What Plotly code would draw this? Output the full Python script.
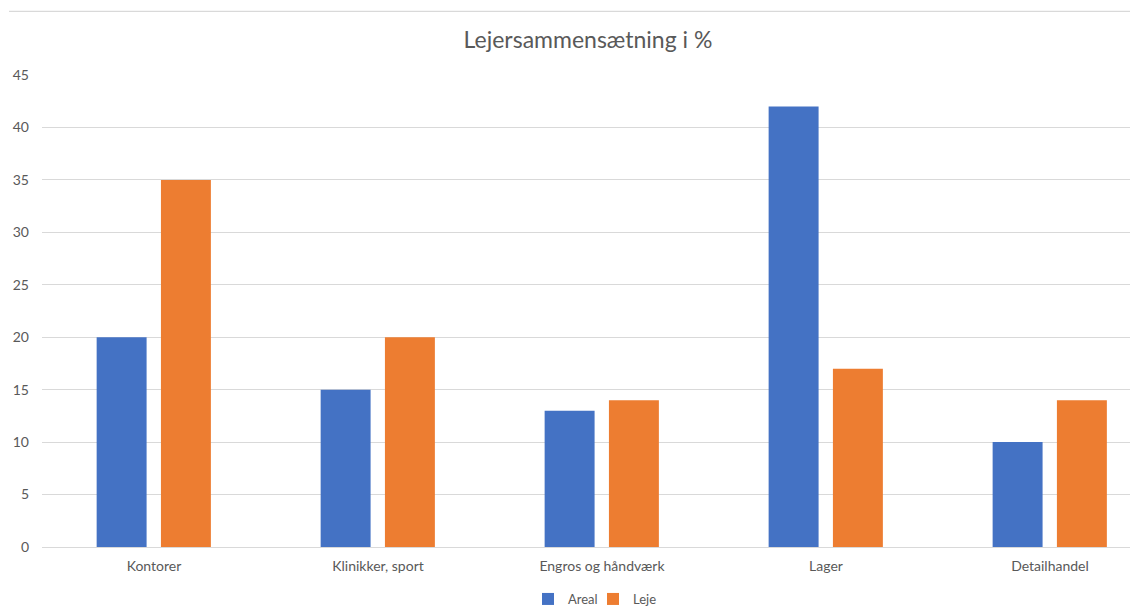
import plotly.graph_objects as go

categories = ["Kontorer", "Klinikker, sport", "Engros og håndværk", "Lager", "Detailhandel"]
areal = [20, 15, 13, 42, 10]
leje = [35, 20, 14, 17, 14]
y_ticks = [0, 5, 10, 15, 20, 25, 30, 35, 40, 45]

# page has an 8px body margin, so the figure is drawn at (8, 8)
W, H = 1130, 600
L, R, T, B = 34, 0, 67, 61.3
FONT = "Lato, 'Open Sans', sans-serif"
GRAY = "#595959"

fig = go.Figure()
fig.add_trace(go.Bar(x=categories, y=areal, name="Areal", marker=dict(color="#4472C4", line=dict(width=0)),
                     width=0.223, offset=-0.256))
fig.add_trace(go.Bar(x=categories, y=leje, name="Leje", marker=dict(color="#ED7D31", line=dict(width=0)),
                     width=0.223, offset=0.031))

plot_w = W - L - R
plot_h = H - T - B
fig.add_shape(type="line", xref="paper", yref="paper",
              x0=(1 - L) / plot_w, x1=1.0 + 5 / plot_w,
              y0=(H - B - 3.5) / plot_h, y1=(H - B - 3.5) / plot_h,
              line=dict(color="#d9d9d9", width=1.3))

fig.update_layout(
    width=W, height=H,
    margin=dict(l=L, r=R, t=T, b=B, pad=0),
    paper_bgcolor="white", plot_bgcolor="white",
    barmode="overlay",
    font=dict(family=FONT, color=GRAY, size=14),
    title=dict(text="Lejersammensætning i %", font=dict(family=FONT, size=23, color=GRAY),
               xref="container", x=580 / W, xanchor="center",
               yref="container", y=1 - 32 / H, yanchor="middle"),
    xaxis=dict(type="category", range=[-0.5, 4.393], showgrid=False, showline=False,
               ticks="", tickfont=dict(size=14, color=GRAY), ticklabelstandoff=9, zeroline=False),
    yaxis=dict(range=[0, 45], tickvals=y_ticks, showgrid=True, gridcolor="#d9d9d9", gridwidth=1,
               zeroline=True, zerolinecolor="#d9d9d9", zerolinewidth=1.3, showline=False,
               ticks="", tickfont=dict(size=14, color=GRAY), ticklabelstandoff=12),
    legend=dict(orientation="h", xref="container", x=585 / W, xanchor="center",
                yref="container", y=(H - 591) / H, yanchor="middle",
                font=dict(size=13, color=GRAY), itemwidth=30, entrywidth=20, entrywidthmode="pixels",
                tracegroupgap=0, bgcolor="rgba(0,0,0,0)"),
    showlegend=True,
)

fig.write_html("out.html")
